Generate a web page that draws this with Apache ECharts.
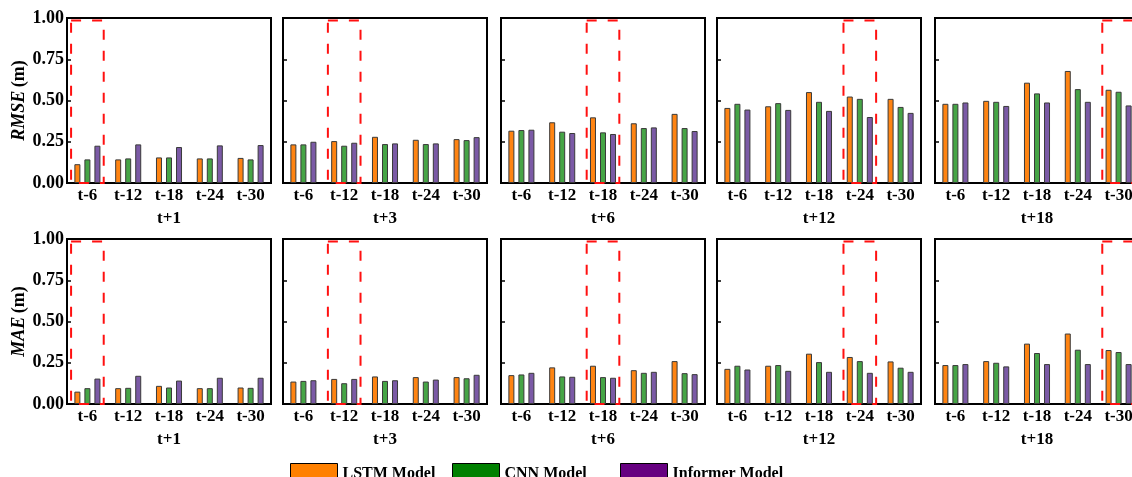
<!DOCTYPE html>
<html><head><meta charset="utf-8">
<script src="https://cdn.jsdelivr.net/npm/echarts@6/dist/echarts.min.js"></script>
<style>html,body{margin:0;padding:0;background:#fff}#c{width:1132px;height:477px}</style>
</head><body><div id="c"></div>
<script>
const categories = ['t-6', 't-12', 't-18', 't-24', 't-30'];
const horizons = ['t+1', 't+3', 't+6', 't+12', 't+18'];
const yTicks = [0, 0.25, 0.5, 0.75, 1.0];
const modelNames = ['LSTM Model', 'CNN Model', 'Informer Model'];
// RMSE values per horizon (rows) per input window (columns)
const rmseLSTM = [
  [0.114, 0.143, 0.155, 0.149, 0.152],
  [0.234, 0.254, 0.280, 0.262, 0.266],
  [0.317, 0.368, 0.398, 0.362, 0.419],
  [0.455, 0.465, 0.551, 0.524, 0.510],
  [0.480, 0.498, 0.608, 0.679, 0.565]
];
const rmseCNN = [
  [0.143, 0.149, 0.155, 0.149, 0.143],
  [0.234, 0.226, 0.236, 0.236, 0.260],
  [0.321, 0.311, 0.307, 0.333, 0.333],
  [0.480, 0.484, 0.492, 0.510, 0.461],
  [0.480, 0.492, 0.543, 0.569, 0.553]
];
const rmseInformer = [
  [0.226, 0.234, 0.218, 0.228, 0.230],
  [0.250, 0.244, 0.240, 0.240, 0.278],
  [0.323, 0.303, 0.297, 0.337, 0.315],
  [0.445, 0.443, 0.437, 0.400, 0.425],
  [0.488, 0.467, 0.488, 0.492, 0.470]
];
// MAE values
const maeLSTM = [
  [0.075, 0.096, 0.110, 0.096, 0.100],
  [0.136, 0.152, 0.167, 0.163, 0.163],
  [0.175, 0.222, 0.232, 0.205, 0.260],
  [0.213, 0.232, 0.305, 0.285, 0.258],
  [0.236, 0.260, 0.366, 0.427, 0.327]
];
const maeCNN = [
  [0.096, 0.098, 0.100, 0.096, 0.098],
  [0.140, 0.126, 0.140, 0.136, 0.156],
  [0.179, 0.167, 0.163, 0.189, 0.187],
  [0.232, 0.236, 0.254, 0.260, 0.220],
  [0.236, 0.250, 0.309, 0.329, 0.315]
];
const maeInformer = [
  [0.154, 0.171, 0.142, 0.159, 0.159],
  [0.144, 0.152, 0.144, 0.148, 0.177],
  [0.189, 0.165, 0.159, 0.195, 0.181],
  [0.209, 0.201, 0.195, 0.189, 0.195],
  [0.242, 0.228, 0.242, 0.242, 0.242]
];
const highlightIndex = [0, 1, 2, 3, 4];
const boxTop = 0.985;

const barColors = ['#FF8412', '#46A546', '#7B5AA6'];
const legendColors = ['#FF8000', '#008000', '#660080'];
const serif = '"Liberation Serif", "Times New Roman", serif';

const metrics = [
  {label: 'RMSE', data: [rmseLSTM, rmseCNN, rmseInformer], top: 18},
  {label: 'MAE', data: [maeLSTM, maeCNN, maeInformer], top: 239}
];
const colLefts = [67, 283, 501, 717, 935];
const plotW = 204, plotH = 165;

const grids = [], xAxes = [], yAxes = [], series = [];
let idx = 0;
metrics.forEach((m, r) => {
  horizons.forEach((h, c) => {
    grids.push({left: colLefts[c], top: m.top, width: plotW, height: plotH,
      outerBoundsMode: 'none',
      show: true, borderColor: '#000', borderWidth: 2, containLabel: false});
    xAxes.push({type: 'category', gridIndex: idx, data: categories,
      name: h, nameLocation: 'middle', nameGap: 27,
      nameTextStyle: {fontFamily: serif, fontWeight: 'bold', fontSize: 17, color: '#000'},
      axisLine: {show: true, lineStyle: {color: '#000', width: 2}},
      axisTick: {show: false},
      axisLabel: {fontFamily: serif, fontWeight: 'bold', fontSize: 17, color: '#000', margin: 4},
      splitLine: {show: false}});
    yAxes.push({type: 'value', gridIndex: idx, min: yTicks[0], max: yTicks[yTicks.length - 1], interval: 0.25,
      name: c === 0 ? '{i|' + m.label + '} {n|(m)}' : '',
      nameLocation: 'middle', nameGap: 38, nameRotate: 90,
      nameTextStyle: {rich: {
        i: {fontFamily: serif, fontWeight: 'bold', fontStyle: 'italic', fontSize: 18, color: '#000'},
        n: {fontFamily: serif, fontWeight: 'bold', fontSize: 18, color: '#000'}}},
      axisLine: {show: true, lineStyle: {color: '#000', width: 2}},
      axisTick: {show: true, inside: true, length: 4, lineStyle: {color: '#000', width: 1.5}},
      axisLabel: {show: c === 0, fontFamily: serif, fontWeight: 'bold', fontSize: 18, color: '#000', margin: 3,
        formatter: v => v.toFixed(2)},
      splitLine: {show: false}});
    m.data.forEach((arr, k) => {
      series.push({type: 'bar', name: modelNames[k], xAxisIndex: idx, yAxisIndex: idx,
        data: arr[c], barWidth: 6, barGap: '67%',
        itemStyle: {color: barColors[k], borderColor: '#3a3a3a', borderWidth: 1}});
    });
    series.push({type: 'custom', xAxisIndex: idx, yAxisIndex: idx, silent: true, z: 5,
      data: [[highlightIndex[c], boxTop]],
      renderItem: (params, api) => {
        const p = api.coord([api.value(0), api.value(1)]);
        const s = api.size([1, api.value(1)]);
        const w = s[0] * 0.8;
        return {type: 'rect', shape: {x: p[0] - w / 2, y: p[1], width: w, height: s[1]},
          style: {fill: 'none', stroke: '#FF1010', lineWidth: 2, lineDash: [10, 11]}};
      }});
    idx++;
  });
});

const legendLefts = [285, 447, 615];
const legends = modelNames.map((n, k) => ({
  left: legendLefts[k], top: 458, itemWidth: 47, itemHeight: 20, icon: 'rect', itemGap: 5,
  selectedMode: false,
  data: [{name: n, itemStyle: {color: legendColors[k], borderColor: '#000', borderWidth: 1}}],
  textStyle: {fontFamily: serif, fontWeight: 'bold', fontSize: 16, color: '#000'}
}));

const chart = echarts.init(document.getElementById('c'), null, {renderer: 'canvas'});
chart.setOption({animation: false, backgroundColor: '#fff', grid: grids, xAxis: xAxes, yAxis: yAxes,
  legend: legends, series: series});
</script></body></html>
